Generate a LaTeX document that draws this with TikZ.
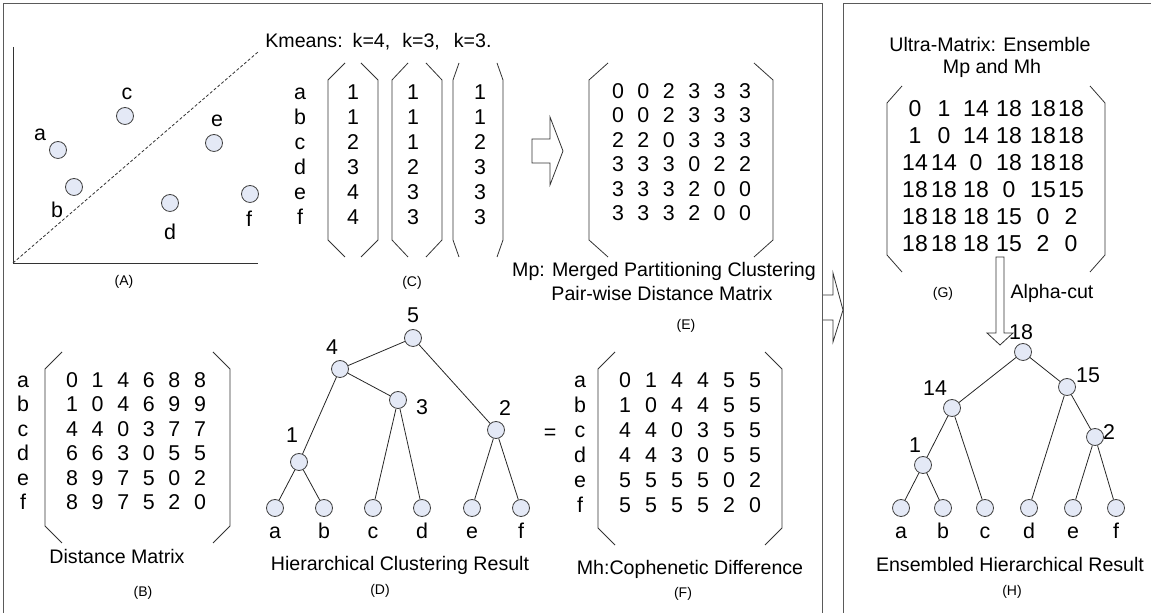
\documentclass[tikz,border=0pt]{standalone}
\usepackage{fontspec}
\setmainfont{Liberation Sans}
\usetikzlibrary{positioning}

\definecolor{dotfill}{RGB}{228,233,246}
\definecolor{framegray}{RGB}{90,90,90}

\newcommand{\numfont}{\fontsize{10.7pt}{12pt}\selectfont}
\newcommand{\bignumfont}{\fontsize{11.5pt}{13pt}\selectfont}
\newcommand{\capfont}{\fontsize{9.8pt}{12pt}\selectfont}
\newcommand{\tagfont}{\fontsize{7pt}{8pt}\selectfont}
\newcommand{\matbracket}[5]% left, right, top, bottom, corner
{(#1+#5,#3) -- (#1,#3+17) -- (#1,#4-17) -- (#1+#5,#4)
 (#2-#5,#3) -- (#2,#3+17) -- (#2,#4-17) -- (#2-#5,#4)
}

\begin{document}
\begin{tikzpicture}[x=0.5pt,y=-0.5pt,
  dot/.style={circle,draw=black!75,fill=dotfill,minimum size=8.5pt,inner sep=0pt},
  num/.style={font=\numfont,inner sep=0pt,text height=7.5pt,text depth=0pt},
  bignum/.style={num,font=\bignumfont},
  caption/.style={font=\capfont,inner sep=0pt,text height=7pt,text depth=2pt},
  tag/.style={font=\tagfont,inner sep=0pt},
  matline/.style={draw=black!80},
  link/.style={draw=black!85},
  arrowline/.style={draw=black!80,fill=white}]
  \useasboundingbox (0,0) rectangle (1151,613);

  % two frames
  \draw[framegray] (3,613) -- (3,3) -- (822,3) -- (822,613);
  \draw[framegray] (843,613) -- (843,3) -- (1151,3);

  % (A) scatter plot
  \draw[black!80] (13,47) -- (13,263) -- (258,263);
  \draw[black!80,dash pattern=on 1.5pt off 1pt] (13,263) -- (258,52);
  \foreach \name/\px/\py/\lx/\ly in {a/58/150/40/133, b/74/187/57/210, c/125/116/127/92,
      d/170/203/170/232, e/214/143/217/119, f/250/194/249/219}
  {
    \node[dot] (pt-\name) at (\px,\py) {};
    \node[num] (ptlab-\name) at (\lx,\ly) {\name};
  }
  \node[tag] (tagA) at (124,282) {(A)};

  % (C) kmeans labels
  \node[caption,anchor=west] (kmeans) at (265,43) {Kmeans:\hspace{5pt}k=4,\hspace{6pt}k=3,\hspace{7pt}k=3.};
  \foreach \lab [count=\r from 0] in {a,b,c,d,e,f}
    \node[num] (c-lab-\lab) at (300,92+25*\r) {\lab};
  \foreach \cx/\vals [count=\k] in {353/{1,1,2,3,4,4}, 413/{1,1,1,2,3,3}, 480/{1,1,2,3,3,3}}
    \foreach \v [count=\r from 0] in \vals
      \node[num] (c-\k-\r) at (\cx,92+25*\r) {\v};
  \draw[matline] \matbracket{328}{378}{63}{257}{17};
  \draw[matline] \matbracket{392}{442}{63}{257}{16};
  \draw[matline] \matbracket{453}{503}{63}{257}{6};
  \node[tag] (tagC) at (412,283) {(C)};

  \draw[arrowline] (532,139) -- (550,139) -- (550,117) -- (563,151) -- (550,185) -- (550,163) -- (532,163) -- cycle;

  % (E) merged partitioning matrix
  \foreach \row [count=\r from 0] in {{0,0,2,3,3,3},{0,0,2,3,3,3},{2,2,0,3,3,3},
      {3,3,3,0,2,2},{3,3,3,2,0,0},{3,3,3,2,0,0}}
    \foreach \v [count=\c from 0] in \row
      \node[num] (e-\r-\c) at (618+25.4*\c,91+24.4*\r) {\v};
  \draw[matline] \matbracket{589}{773}{63}{257}{19};
  \node[caption] (mp-1) at (664,272) {Mp: Merged Partitioning Clustering};
  \node[caption] (mp-2) at (662,296) {Pair-wise Distance Matrix};
  \node[tag] (tagE) at (686,326) {(E)};

  \draw[arrowline] (823,295) -- (833,295) -- (833,273) -- (843,310) -- (833,342) -- (833,320) -- (823,320);

  % (B) distance matrix
  \foreach \lab [count=\r from 0] in {a,b,c,d,e,f}
    \node[num] (b-lab-\lab) at (23,380+24.4*\r) {\lab};
  \foreach \row [count=\r from 0] in {{0,1,4,6,8,8},{1,0,4,6,9,9},{4,4,0,3,7,7},
      {6,6,3,0,5,5},{8,9,7,5,0,2},{8,9,7,5,2,0}}
    \foreach \v [count=\c from 0] in \row
      \node[num] (b-\r-\c) at (72+25.6*\c,380+24.4*\r) {\v};
  \draw[matline] \matbracket{45}{230}{352}{543}{17};
  \node[caption] (dist) at (117,559) {Distance Matrix};
  \node[tag] (tagB) at (143,593) {(B)};

  % (D) hierarchical tree
  \node[dot] (d5) at (413,338) {};
  \node[dot] (d4) at (340,369) {};
  \node[dot] (d3) at (398,400) {};
  \node[dot] (d2) at (496,430) {};
  \node[dot] (d1) at (299,462) {};
  \foreach \lab/\px in {a/275, b/324, c/373, d/422, e/472, f/521}
  {
    \node[dot] (dleaf-\lab) at (\px,508) {};
    \node[num,below=3pt of dleaf-\lab] (dlab-\lab) {\lab};
  }
  \node[num] (dh5) at (413,315) {5};
  \node[num] (dh4) at (332,347) {4};
  \node[num] (dh3) at (422,407) {3};
  \node[num] (dh2) at (505,408) {2};
  \node[num] (dh1) at (292,435) {1};
  \draw[link] (d5) -- (d4) (d5) -- (d2) (d4) -- (d1) (d4) -- (d3)
    (d1) -- (dleaf-a) (d1) -- (dleaf-b) (d3) -- (dleaf-c) (d3) -- (dleaf-d)
    (d2) -- (dleaf-e) (d2) -- (dleaf-f);
  \node[caption] (hier) at (400,566) {Hierarchical Clustering Result};
  \node[tag] (tagD) at (380,591) {(D)};

  % (F) cophenetic matrix
  \node[num] (equal) at (550,432) {=};
  \foreach \lab [count=\r from 0] in {a,b,c,d,e,f}
    \node[num] (f-lab-\lab) at (580,380+25*\r) {\lab};
  \foreach \row [count=\r from 0] in {{0,1,4,4,5,5},{1,0,4,4,5,5},{4,4,0,3,5,5},
      {4,4,3,0,5,5},{5,5,5,5,0,2},{5,5,5,5,2,0}}
    \foreach \v [count=\c from 0] in \row
      \node[num] (f-\r-\c) at (625+26*\c,380+25*\r) {\v};
  \draw[matline] \matbracket{598}{782}{352}{545}{17};
  \node[caption] (coph) at (690,570) {Mh:Cophenetic Difference};
  \node[tag] (tagF) at (683,594) {(F)};

  % (G) ultra-matrix
  \node[caption] (ultra-1) at (990,47) {Ultra-Matrix: Ensemble};
  \node[caption] (ultra-2) at (992,69) {Mp and Mh};
  \foreach \row [count=\r from 0] in {{0,1,14,18,18,18},{1,0,14,18,18,18},{14,14,0,18,18,18},
      {18,18,18,0,15,15},{18,18,18,15,0,2},{18,18,18,15,2,0}}
    \foreach \v [count=\c from 0] in \row
    {
      \pgfmathsetmacro{\gx}{{915,944,976,1009,1043,1071}[\c]}
      \node[bignum] (g-\r-\c) at (\gx,109+27*\r) {\v};
    }
  \draw[matline] \matbracket{887}{1105}{86}{272}{15};
  \node[tag] (tagG) at (943,294) {(G)};
  \node[caption] (alpha) at (1052,294) {Alpha-cut};

  \draw[arrowline] (996,257) -- (1004,257) -- (1004,333) -- (1013,333) -- (1000,345) -- (987,333) -- (996,333) -- cycle;

  % (H) ensembled tree
  \node[dot] (h18) at (1023,352) {};
  \node[dot] (h14) at (952,408) {};
  \node[dot] (h15) at (1067,387) {};
  \node[dot] (h2) at (1095,437) {};
  \node[dot] (h1) at (923,465) {};
  \foreach \lab/\px in {a/901, b/943, c/985, d/1029, e/1073, f/1116}
  {
    \node[dot] (hleaf-\lab) at (\px,508) {};
    \node[num,below=3pt of hleaf-\lab] (hlab-\lab) {\lab};
  }
  \node[num] (hh18) at (1021,332) {18};
  \node[num] (hh14) at (935,388) {14};
  \node[num] (hh15) at (1088,375) {15};
  \node[num] (hh2) at (1109,432) {2};
  \node[num] (hh1) at (915,445) {1};
  \draw[link] (h18) -- (h14) (h18) -- (h15) (h14) -- (h1) (h14) -- (hleaf-c)
    (h1) -- (hleaf-a) (h1) -- (hleaf-b) (h15) -- (hleaf-d) (h15) -- (h2)
    (h2) -- (hleaf-e) (h2) -- (hleaf-f);
  \node[caption] (ens) at (1010,567) {Ensembled Hierarchical Result};
  \node[tag] (tagH) at (1012,592) {(H)};
\end{tikzpicture}
\end{document}
